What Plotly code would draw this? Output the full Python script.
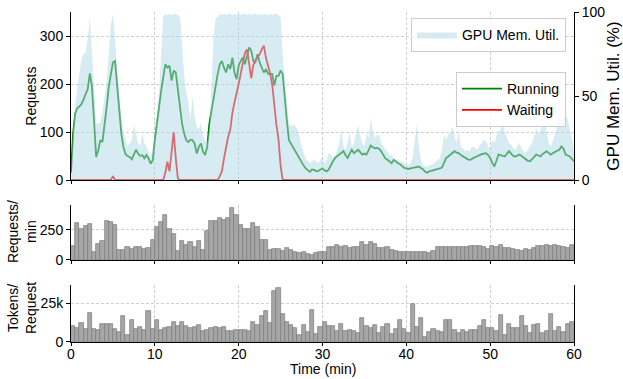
import plotly.graph_objects as go

# time axis for line series (minutes, 0.25-min steps)
t_line = [i * 0.25 for i in range(241)]

running = [
    15, 97, 138, 150, 153, 158, 168, 180, 190, 222, 195, 124, 48, 62, 83, 79, 110, 152, 193, 224,
    245, 248, 193, 138, 97, 69, 54, 50, 48, 43, 55, 63, 55, 50, 52, 45, 52, 45, 34, 41,
    83, 120, 152, 185, 214, 241, 234, 238, 207, 228, 224, 186, 145, 117, 97, 83, 79, 84, 83, 76,
    55, 69, 76, 59, 52, 69, 117, 145, 172, 200, 221, 241, 248, 234, 224, 241, 231, 255, 224, 210,
    238, 248, 255, 241, 262, 276, 269, 248, 245, 262, 245, 234, 224, 231, 221, 221, 221, 197, 217, 217,
    228, 221, 165, 124, 83, 75, 69, 60, 52, 45, 38, 30, 24, 21, 17, 22, 21, 18, 19, 22,
    24, 20, 18, 22, 32, 39, 46, 50, 53, 58, 60, 52, 46, 55, 63, 56, 59, 63, 58, 53,
    55, 53, 62, 72, 68, 66, 67, 65, 60, 53, 45, 42, 38, 35, 42, 38, 35, 33, 28, 25,
    24, 23, 24, 25, 26, 27, 28, 25, 22, 17, 15, 18, 19, 20, 21, 22, 24, 26, 36, 46,
    49, 53, 57, 60, 57, 56, 52, 49, 46, 44, 42, 43, 46, 48, 50, 53, 54, 55, 56, 52,
    46, 36, 28, 40, 53, 52, 50, 49, 55, 60, 55, 50, 49, 51, 53, 50, 46, 42, 40, 39,
    43, 48, 53, 51, 49, 54, 58, 60, 56, 53, 56, 59, 61, 63, 70, 65, 53, 51, 49, 44,
    39,
]

waiting = (
    [0] * 20
    + [8] + [0] * 19
    + [0, 0, 0, 0, 0, 15, 38, 18, 55, 100, 45, 3, 0, 0, 0, 0, 0, 0, 0, 0]
    + [0, 0, 0, 0, 0, 0, 0, 0, 0, 0, 0, 8, 18, 45, 70, 90, 105, 140, 162, 178]
    + [200, 222, 244, 265, 272, 240, 212, 240, 250, 255, 262, 272, 280, 255, 240, 222, 199, 150, 115, 85]
    + [30] + [0] * 19
    + [0] * 120
    + [0]
)

gpu_util = [
    0, 30, 45, 54, 65, 72, 75, 76, 84, 97, 75, 50, 33, 34, 34, 40, 48, 58, 75, 92,
    99, 85, 65, 48, 37, 28, 24, 20, 22, 24, 33, 28, 22, 20, 28, 22, 20, 17, 14, 18,
    28, 38, 52, 75, 97, 99, 98, 99, 98, 99, 99, 98, 97, 80, 62, 52, 46, 36, 50, 38,
    32, 30, 34, 26, 23, 22, 30, 55, 85, 96, 97, 99, 98, 99, 98, 99, 99, 98, 99, 98,
    99, 98, 99, 99, 98, 99, 98, 99, 99, 98, 99, 98, 99, 99, 98, 99, 98, 99, 99, 98,
    97, 75, 58, 45, 33, 32, 33, 32, 30, 26, 20, 16, 13, 11, 10, 11, 12, 11, 10, 12,
    14, 10, 12, 16, 15, 13, 14, 18, 22, 31, 20, 18, 22, 29, 19, 22, 27, 33, 26, 22,
    20, 28, 25, 37, 29, 25, 27, 27, 22, 20, 18, 17, 15, 15, 13, 12, 12, 11, 11, 10,
    9, 9, 10, 14, 24, 33, 20, 12, 9, 8, 8, 9, 9, 10, 11, 12, 13, 18, 27, 24,
    27, 28, 32, 26, 22, 30, 20, 19, 17, 18, 17, 19, 20, 19, 18, 21, 22, 24, 23, 20,
    19, 24, 22, 26, 29, 30, 34, 28, 25, 22, 21, 19, 18, 20, 22, 19, 17, 16, 18, 20,
    22, 26, 31, 27, 30, 33, 35, 28, 22, 20, 24, 28, 32, 39, 34, 38, 39, 36, 30, 24,
    19,
]

# half-minute bins for bar panels (bin centers)
t_bins = [0.25 + 0.5 * k for k in range(120)]

requests_per_min = [
    116, 301, 258, 277, 293, 67, 132, 156, 325, 309, 288, 83, 83, 108, 91, 108, 108, 94, 102, 164,
    269, 317, 374, 253, 215, 75, 156, 126, 148, 108, 156, 83, 237, 325, 325, 349, 333, 349, 428, 372,
    285, 257, 253, 301, 269, 164, 164, 83, 91, 91, 75, 99, 83, 67, 59, 67, 51, 45, 59, 62,
    67, 108, 108, 124, 108, 116, 99, 108, 108, 148, 124, 148, 132, 99, 99, 108, 83, 75, 67, 67,
    67, 67, 67, 67, 67, 59, 75, 108, 108, 108, 108, 108, 108, 108, 108, 116, 116, 116, 108, 91,
    116, 108, 124, 99, 99, 91, 83, 75, 91, 83, 99, 116, 116, 124, 116, 124, 116, 108, 99, 124,
]

tokens_per_request = [
    10200, 9300, 12200, 8300, 18700, 8300, 7600, 11500, 11500, 11500, 8300, 6700, 16700, 4300, 14100, 8500, 9800, 7600, 20000, 8300,
    14100, 7600, 9100, 9600, 13300, 10200, 13300, 10200, 8900, 9600, 11100, 7000, 7600, 8900, 9600, 8900, 9600, 7000, 7000, 8000,
    8000, 7600, 7000, 12800, 10900, 16700, 20000, 12200, 33000, 35000, 18000, 13000, 11000, 8900, 4800, 10800, 6800, 20700, 5300, 10000,
    13300, 10600, 10600, 7300, 11900, 7300, 8000, 7300, 6000, 15300, 10600, 9300, 11300, 6000, 10000, 12000, 5300, 8600, 14600, 8600,
    6000, 24600, 10000, 15300, 3500, 6600, 8600, 7300, 6600, 14600, 14600, 8000, 6000, 8000, 6600, 8000, 8000, 10600, 14600, 9300,
    9300, 7300, 17300, 4600, 12000, 9300, 9300, 16600, 10600, 6000, 11300, 12000, 6000, 7300, 18000, 7300, 10000, 6600, 12000, 13300,
]

x_ticks = [0, 10, 20, 30, 40, 50, 60]

FONT = "Liberation Sans, Arial, sans-serif"
GRID = "#cfcfcf"
DASH = "3px,2px"

fig = go.Figure()

fig.add_trace(go.Scatter(x=t_line, y=running, mode="lines", name="Running",
                         line=dict(color="green", width=1.8), legend="legend2",
                         xaxis="x", yaxis="y"))
fig.add_trace(go.Scatter(x=t_line, y=waiting, mode="lines", name="Waiting",
                         line=dict(color="red", width=1.8), legend="legend2",
                         xaxis="x", yaxis="y"))
fig.add_trace(go.Scatter(x=t_line, y=gpu_util, mode="lines", name="GPU Mem. Util.",
                         line=dict(width=0, color="rgba(173,216,230,0.5)"), fill="tozeroy",
                         fillcolor="rgba(173,216,230,0.5)", legend="legend",
                         xaxis="x", yaxis="y2"))

bar_marker = dict(color="#a6a6a6", line=dict(color="#7a7a7a", width=0.7))
fig.add_trace(go.Bar(x=t_bins, y=requests_per_min, width=0.5, marker=bar_marker,
                     showlegend=False, xaxis="x2", yaxis="y3"))
fig.add_trace(go.Bar(x=t_bins, y=tokens_per_request, width=0.5, marker=bar_marker,
                     showlegend=False, xaxis="x3", yaxis="y4"))

common_x = dict(range=[0, 60], tickvals=x_ticks, ticks="outside", ticklen=3,
                tickcolor="black", showline=True, linecolor="black", linewidth=1,
                showgrid=True, gridcolor=GRID, griddash=DASH, gridwidth=0.8,
                zeroline=False, automargin=False)
common_y = dict(ticks="outside", ticklen=4, tickcolor="black", showline=True,
                linecolor="black", linewidth=1, showgrid=True, gridcolor=GRID,
                griddash=DASH, gridwidth=0.8, zeroline=False, automargin=False)

annotations = [
    dict(text="Time (min)", x=0.5, y=-0.0818),
    dict(text="Requests", x=-0.0785, y=0.745, textangle=-90),
    dict(text="Requests/<br>min", x=-0.0974, y=0.333, textangle=-90),
    dict(text="Tokens/<br>Request", x=-0.0974, y=0.103, textangle=-90),
]
for a in annotations:
    a.update(xref="paper", yref="paper", xanchor="center", yanchor="middle",
             showarrow=False, font=dict(size=14))

fig.update_layout(
    width=623, height=379,
    margin=dict(l=71, r=49, t=12, b=37),
    paper_bgcolor="white", plot_bgcolor="white",
    font=dict(family=FONT, size=14, color="black"),
    bargap=0,
    xaxis=dict(domain=[0, 1], anchor="y", showticklabels=False, **common_x),
    yaxis=dict(domain=[0.4909, 1], anchor="x", range=[0, 350], tickvals=[0, 100, 200, 300],
               **common_y),
    yaxis2=dict(overlaying="y", side="right", anchor="x", range=[0, 100],
                tickvals=[0, 50, 100], ticks="outside", ticklen=4, tickcolor="black",
                showline=True, linecolor="black", linewidth=1, showgrid=False,
                zeroline=False, automargin=False,
                title=dict(text="GPU Mem. Util. (%)", standoff=6)),
    xaxis2=dict(domain=[0, 1], anchor="y3", matches="x", showticklabels=False, **common_x),
    yaxis3=dict(domain=[0.2485, 0.4152], anchor="x2", range=[0, 453], tickvals=[0, 250],
                mirror=True, **common_y),
    xaxis3=dict(domain=[0, 1], anchor="y4", matches="x", showticklabels=True,
                ticklabelstandoff=-4, **common_x),
    yaxis4=dict(domain=[0, 0.1727], anchor="x3", range=[0, 37000], tickvals=[0, 25000],
                ticktext=["0", "25k"], mirror=True, **common_y),
    legend=dict(x=0.984, y=0.982, xanchor="right", yanchor="top", bordercolor="#cccccc",
                borderwidth=1, bgcolor="rgba(255,255,255,0.8)", font=dict(size=14),
                itemwidth=40),
    legend2=dict(x=0.984, y=0.818, xanchor="right", yanchor="top", bordercolor="#cccccc",
                 borderwidth=1, bgcolor="rgba(255,255,255,0.8)", font=dict(size=14),
                 tracegroupgap=0, itemwidth=40),
    annotations=annotations,
)

fig.write_html("out.html")
